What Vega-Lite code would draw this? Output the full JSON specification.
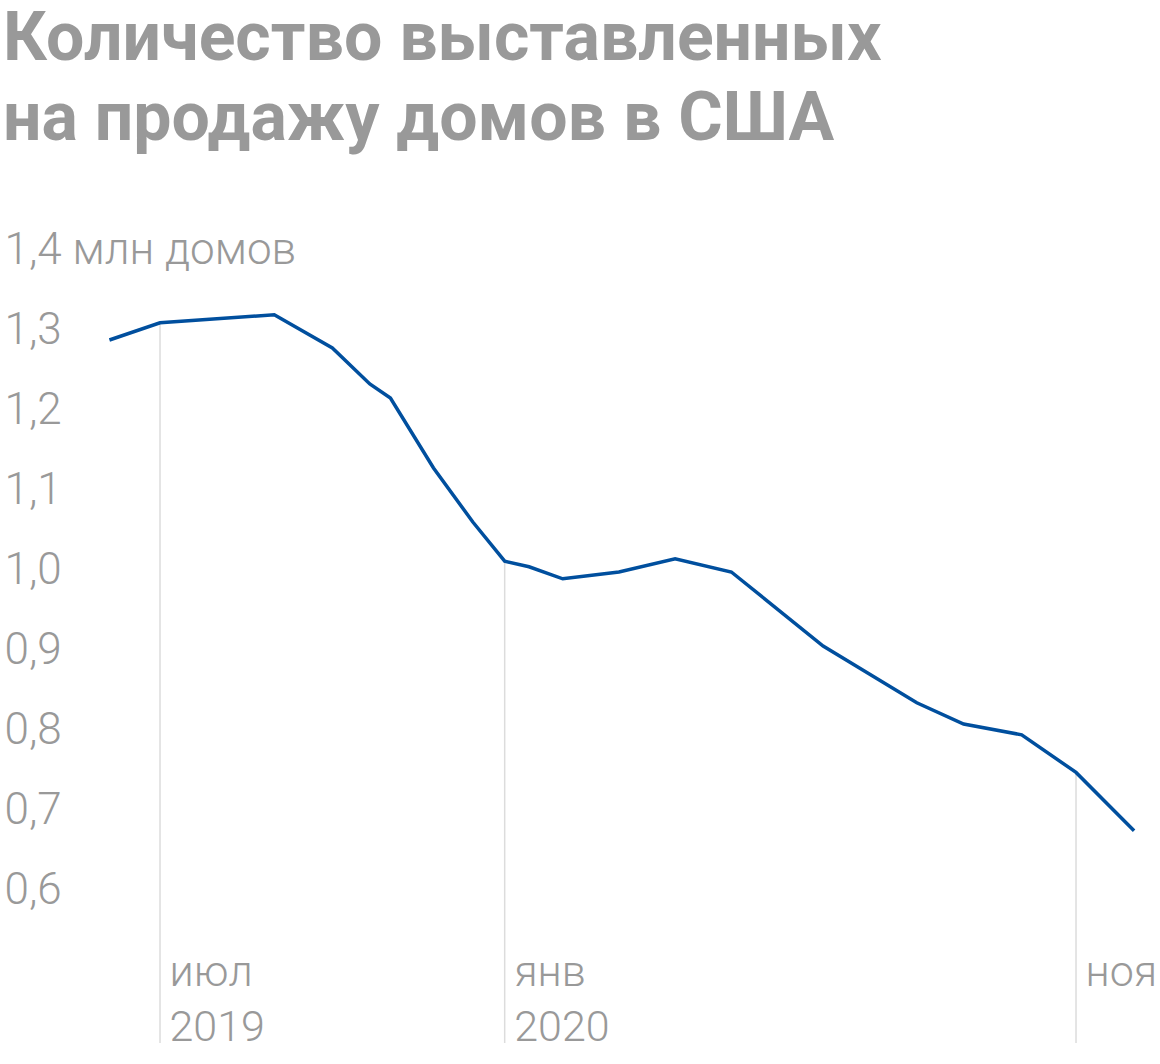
{
  "$schema": "https://vega.github.io/schema/vega-lite/v6.json",
  "width": 1160,
  "height": 793,
  "autosize": "none",
  "padding": {"left": 0, "top": 250, "right": 0, "bottom": 21},
  "background": "white",
  "title": {
    "text": ["Количество выставленных", "на продажу домов в США"],
    "anchor": "start",
    "frame": "group",
    "font": "Roboto",
    "fontWeight": "bold",
    "fontSize": 68,
    "lineHeight": 80,
    "color": "#999999",
    "offset": 74,
    "dx": 3
  },
  "datasets": {
    "listings": [
      {"date": "2019-06-04", "homes": 1.2875},
      {"date": "2019-07-01", "homes": 1.309},
      {"date": "2019-08-31", "homes": 1.319},
      {"date": "2019-10-01", "homes": 1.2775},
      {"date": "2019-10-21", "homes": 1.2325},
      {"date": "2019-11-01", "homes": 1.215},
      {"date": "2019-11-24", "homes": 1.1275},
      {"date": "2019-12-15", "homes": 1.06},
      {"date": "2020-01-01", "homes": 1.011},
      {"date": "2020-01-14", "homes": 1.004},
      {"date": "2020-02-01", "homes": 0.989},
      {"date": "2020-03-02", "homes": 0.9975},
      {"date": "2020-04-01", "homes": 1.014},
      {"date": "2020-05-01", "homes": 0.9975},
      {"date": "2020-06-19", "homes": 0.905},
      {"date": "2020-08-08", "homes": 0.834},
      {"date": "2020-09-02", "homes": 0.8075},
      {"date": "2020-10-03", "homes": 0.794},
      {"date": "2020-11-01", "homes": 0.747},
      {"date": "2020-12-02", "homes": 0.674}
    ],
    "markers": [
      {"date": "2019-07-01", "homes": 1.309},
      {"date": "2020-01-01", "homes": 1.011},
      {"date": "2020-11-01", "homes": 0.747}
    ]
  },
  "encoding": {
    "x": {
      "field": "date",
      "type": "temporal",
      "title": null,
      "scale": {
        "type": "utc",
        "domain": [
          {"year": 2019, "month": 4, "date": 6, "hours": 14, "utc": true},
          {"year": 2020, "month": 12, "date": 15, "hours": 20, "utc": true}
        ]
      },
      "axis": {
        "values": [
          {"year": 2019, "month": 7, "date": 1, "utc": true},
          {"year": 2020, "month": 1, "date": 1, "utc": true},
          {"year": 2020, "month": 11, "date": 1, "utc": true}
        ],
        "labelExpr": "utcmonth(datum.value) == 6 ? ['июл', '2019'] : utcmonth(datum.value) == 0 ? ['янв', '2020'] : 'ноя'",
        "domain": false,
        "ticks": false,
        "tickSize": 0,
        "grid": false,
        "labelAlign": "left",
        "labelBaseline": "top",
        "labelOffset": 9,
        "labelPadding": -92,
        "labelLineHeight": 55,
        "labelFlush": false,
        "labelOverlap": false,
        "labelFont": "Roboto",
        "labelFontWeight": 300,
        "labelFontSize": 43,
        "labelColor": "#999999"
      }
    },
    "y": {
      "field": "homes",
      "type": "quantitative",
      "title": null,
      "scale": {"domain": [0.40875, 1.4], "nice": false, "zero": false},
      "axis": {
        "values": [0.6, 0.7, 0.8, 0.9, 1.0, 1.1, 1.2, 1.3, 1.4],
        "labelExpr": "datum.value > 1.35 ? '1,4 млн домов' : replace(format(datum.value, '.1f'), '.', ',')",
        "domain": false,
        "ticks": false,
        "tickSize": 0,
        "grid": false,
        "labelAlign": "left",
        "labelPadding": -4,
        "labelLimit": 0,
        "labelOverlap": false,
        "labelFont": "Roboto",
        "labelFontWeight": 300,
        "labelFontSize": 44,
        "labelColor": "#999999"
      }
    }
  },
  "layer": [
    {
      "data": {"name": "markers"},
      "mark": {"type": "rule", "color": "#dcdcdc", "strokeWidth": 1.5},
      "encoding": {
        "y2": {"value": "height"}
      }
    },
    {
      "data": {"name": "listings"},
      "mark": {"type": "line", "color": "#004f9e", "strokeWidth": 3.5},
      "encoding": {}
    }
  ],
  "config": {
    "view": {"stroke": null}
  }
}
